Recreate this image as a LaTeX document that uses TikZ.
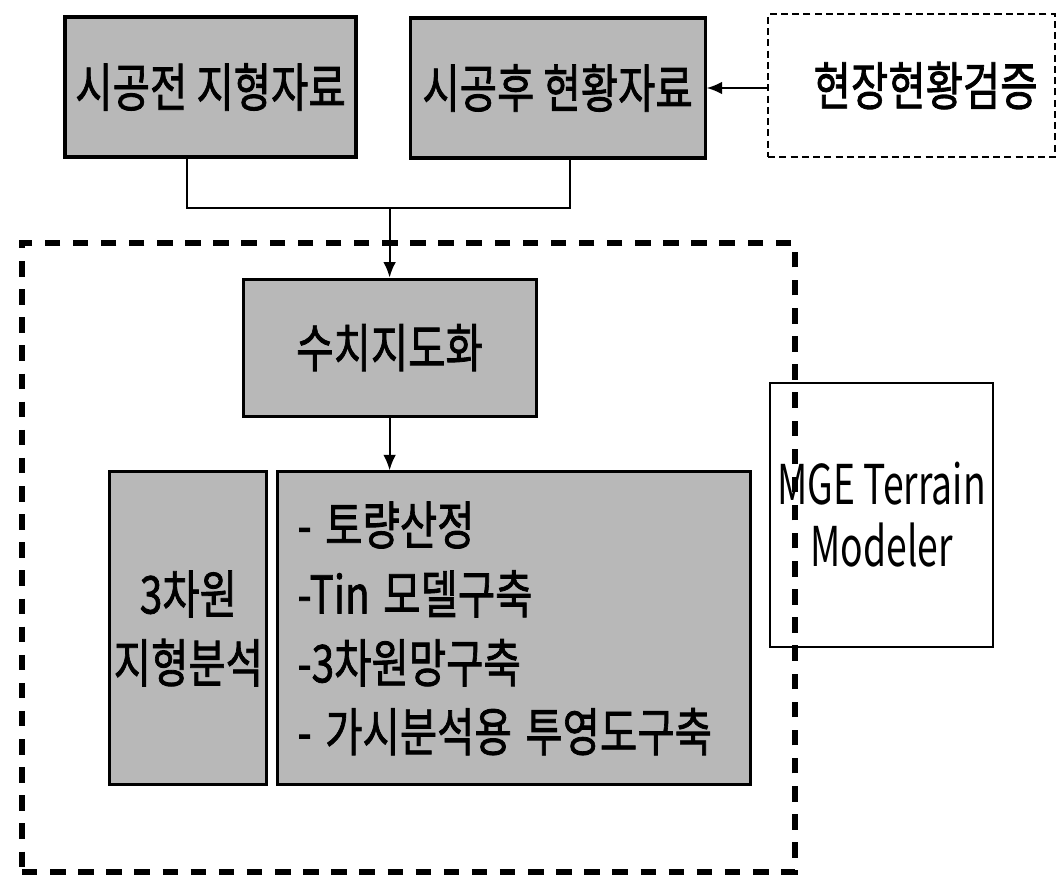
\documentclass[tikz,border=0pt]{standalone}
\usepackage{fontspec}
\usepackage{graphicx}
\newfontfamily\krfont{Noto Sans CJK KR}[FakeBold=1.6]
\newfontfamily\latfont{Noto Sans CJK KR}
\usetikzlibrary{arrows.meta}
\tikzset{>={Latex[length=11pt,width=9pt]}}
% squeezed text, the scan has narrow letters
\newcommand\nrw[1]{\scalebox{0.78}[1]{#1}}
\newcommand\nrwl[1]{\scalebox{0.68}[1]{#1}}
\tikzset{
  databox/.style={draw, line width=2.2pt, fill=black!28, inner sep=0pt},
  checkbox/.style={draw, line width=1.5pt, dash pattern=on 5pt off 3pt, inner sep=0pt},
  zonebox/.style={draw, line width=4.3pt, dash pattern=on 11pt off 9pt},
  toolbox/.style={draw, line width=1pt, inner sep=0pt},
  link/.style={line width=1.4pt}
}

\begin{document}
\begin{tikzpicture}[font=\krfont\fontsize{37}{49}\selectfont]
  \useasboundingbox (0,0) rectangle (26.425,-21.975);
  % input data
  \node[databox, minimum width=7.275cm, minimum height=3.5cm] (pre) at (5.263,-2.175) {\nrw{시공전 지형자료}};
  \node[databox, minimum width=7.375cm, minimum height=3.5cm] (post) at (13.94,-2.2) {\nrw{시공후 현황자료}};
  \node[checkbox, minimum width=7.175cm, minimum height=3.575cm, text width=6.3cm, align=right] (check) at (22.79,-2.14) {\nrw{현장현황검증}};
  \draw[link, ->] (check.west |- post.east) -- (post.east);

  \node[databox, minimum width=7.325cm, minimum height=3.425cm] (digit) at (9.74,-8.69) {\nrw{수치지도화}};
  \coordinate (join) at (digit |- 0,-5.2);
  \draw[link] ([xshift=-0.59cm]pre.south) |- (join) -| ([xshift=0.31cm]post.south);
  \draw[link, ->] (join) -- (digit);

  % analysis
  \node[databox, minimum width=3.925cm, minimum height=7.825cm, align=center] (terrain) at (4.71,-15.71) {\nrw{3차원}\\ \nrw{지형분석}};
  \node[databox, minimum width=11.825cm, minimum height=7.825cm, text width=10.8cm, align=left] (tasks) at (12.84,-15.71)
    {\nrw{- 토량산정}\\ \nrw{-Tin 모델구축}\\ \nrw{-3차원망구축}\\ \nrw{- 가시분석용 투영도구축}};
  \draw[link, ->] (digit.south) -- (digit.south |- tasks.north);

  \node[toolbox, minimum width=5.575cm, minimum height=6.6cm, align=center, font=\latfont\fontsize{39}{44}\selectfont] (mge) at (22.04,-12.875)
    {\nrwl{MGE Terrain}\\ \nrwl{Modeler}};
  \node[zonebox, minimum width=19.325cm, minimum height=15.725cm] (zone) at (10.2125,-13.9375) {};
\end{tikzpicture}
\end{document}
